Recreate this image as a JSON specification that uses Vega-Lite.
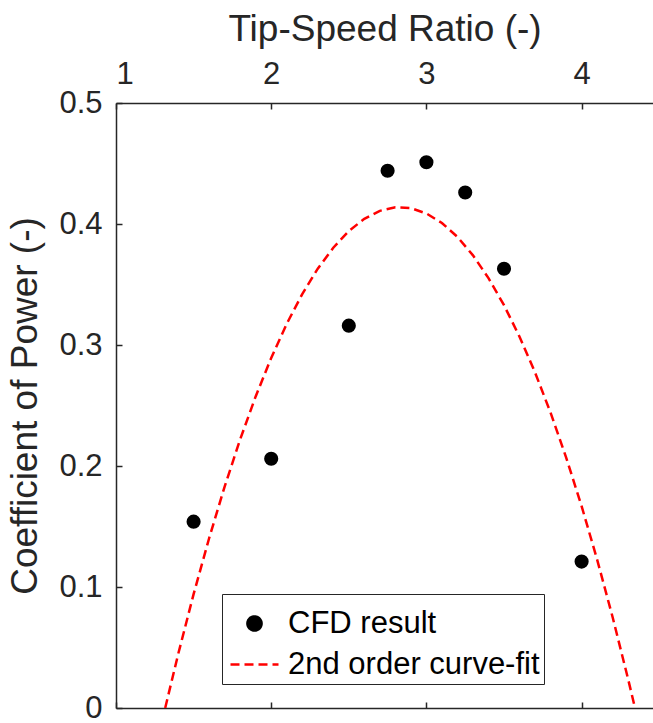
{
  "$schema": "https://vega.github.io/schema/vega-lite/v6.json",
  "width": 537,
  "height": 605,
  "autosize": {"type": "none"},
  "padding": {"left": 116, "top": 103, "right": 0, "bottom": 15},
  "background": "white",
  "config": {
    "view": {"stroke": null},
    "font": "Liberation Sans",
    "axis": {
      "grid": false,
      "domainColor": "#262626",
      "domainWidth": 1.5,
      "tickColor": "#262626",
      "tickWidth": 1.5,
      "tickSize": -6,
      "labelFont": "Liberation Sans",
      "labelFontSize": 31,
      "labelColor": "#262626",
      "titleFont": "Liberation Sans",
      "titleFontSize": 37,
      "titleFontWeight": "normal",
      "titleColor": "#262626"
    }
  },
  "datasets": {
    "cfd": [
      {"tsr": 1.5, "cp": 0.154},
      {"tsr": 2.0, "cp": 0.206},
      {"tsr": 2.5, "cp": 0.316},
      {"tsr": 2.75, "cp": 0.444},
      {"tsr": 3.0, "cp": 0.451},
      {"tsr": 3.25, "cp": 0.426},
      {"tsr": 3.5, "cp": 0.363},
      {"tsr": 4.0, "cp": 0.121}
    ],
    "fit": [
      {"tsr": 1.317, "cp": 0.0},
      {"tsr": 1.4, "cp": 0.0442},
      {"tsr": 1.5, "cp": 0.0941},
      {"tsr": 1.6, "cp": 0.1403},
      {"tsr": 1.7, "cp": 0.1830},
      {"tsr": 1.8, "cp": 0.2220},
      {"tsr": 1.9, "cp": 0.2575},
      {"tsr": 2.0, "cp": 0.2893},
      {"tsr": 2.1, "cp": 0.3175},
      {"tsr": 2.2, "cp": 0.3421},
      {"tsr": 2.3, "cp": 0.3631},
      {"tsr": 2.4, "cp": 0.3804},
      {"tsr": 2.5, "cp": 0.3942},
      {"tsr": 2.6, "cp": 0.4043},
      {"tsr": 2.7, "cp": 0.4109},
      {"tsr": 2.8, "cp": 0.4138},
      {"tsr": 2.9, "cp": 0.4131},
      {"tsr": 3.0, "cp": 0.4087},
      {"tsr": 3.1, "cp": 0.4008},
      {"tsr": 3.2, "cp": 0.3893},
      {"tsr": 3.3, "cp": 0.3741},
      {"tsr": 3.4, "cp": 0.3553},
      {"tsr": 3.5, "cp": 0.3329},
      {"tsr": 3.6, "cp": 0.3069},
      {"tsr": 3.7, "cp": 0.2773},
      {"tsr": 3.8, "cp": 0.2441},
      {"tsr": 3.9, "cp": 0.2072},
      {"tsr": 4.0, "cp": 0.1668},
      {"tsr": 4.1, "cp": 0.1227},
      {"tsr": 4.2, "cp": 0.0750},
      {"tsr": 4.3, "cp": 0.0237},
      {"tsr": 4.344, "cp": 0.0}
    ]
  },
  "layer": [
    {
      "data": {"name": "fit"},
      "mark": {"type": "line", "strokeDash": [9, 5], "strokeWidth": 2.5, "clip": true},
      "encoding": {
        "x": {
          "field": "tsr",
          "type": "quantitative",
          "scale": {"domain": [1, 4.46], "nice": false, "zero": false},
          "axis": {"orient": "bottom", "values": [1, 2, 3, 4], "labels": false, "title": null}
        },
        "y": {
          "field": "cp",
          "type": "quantitative",
          "scale": {"domain": [0, 0.5], "nice": false},
          "axis": {
            "orient": "left",
            "values": [0, 0.1, 0.2, 0.3, 0.4, 0.5],
            "labelExpr": "datum.value == 0 ? '0' : format(datum.value, '.1f')",
            "labelPadding": 20,
            "title": "Coefficient of Power (-)",
            "titlePadding": 14
          }
        },
        "color": {
          "datum": "2nd order curve-fit",
          "scale": {"domain": ["CFD result", "2nd order curve-fit"], "range": ["black", "red"]},
          "legend": {
            "orient": "none",
            "legendX": 106,
            "legendY": 491,
            "title": null,
            "direction": "vertical",
            "strokeColor": "#262626",
            "fillColor": "white",
            "padding": 4,
            "symbolSize": 1764,
            "symbolOffset": 3,
            "rowPadding": -2,
            "labelOffset": 8,
            "labelFont": "Liberation Sans",
            "labelFontSize": 31,
            "labelColor": "black",
            "labelLimit": 400,
            "encode": {
              "symbols": {
                "update": {
                  "shape": {"signal": "datum.value === 'CFD result' ? 'circle' : 'stroke'"},
                  "size": {"signal": "datum.value === 'CFD result' ? 200 : 2304"},
                  "fill": {"signal": "datum.value === 'CFD result' ? 'black' : 'transparent'"},
                  "stroke": {"signal": "datum.value === 'CFD result' ? 'transparent' : 'red'"},
                  "strokeWidth": {"value": 2.5},
                  "strokeDash": {"signal": "datum.value === 'CFD result' ? [1, 0] : [9, 5]"},
                  "opacity": {"value": 1}
                }
              }
            }
          }
        }
      }
    },
    {
      "data": {"name": "cfd"},
      "mark": {"type": "point", "filled": true, "size": 200, "opacity": 1},
      "encoding": {
        "x": {
          "field": "tsr",
          "type": "quantitative",
          "axis": {
            "orient": "top",
            "values": [1, 2, 3, 4],
            "format": "d",
            "labelPadding": 19,
            "title": "Tip-Speed Ratio (-)",
            "titlePadding": 10
          }
        },
        "y": {"field": "cp", "type": "quantitative"},
        "color": {"datum": "CFD result"}
      }
    }
  ],
  "resolve": {"axis": {"x": "independent"}}
}
